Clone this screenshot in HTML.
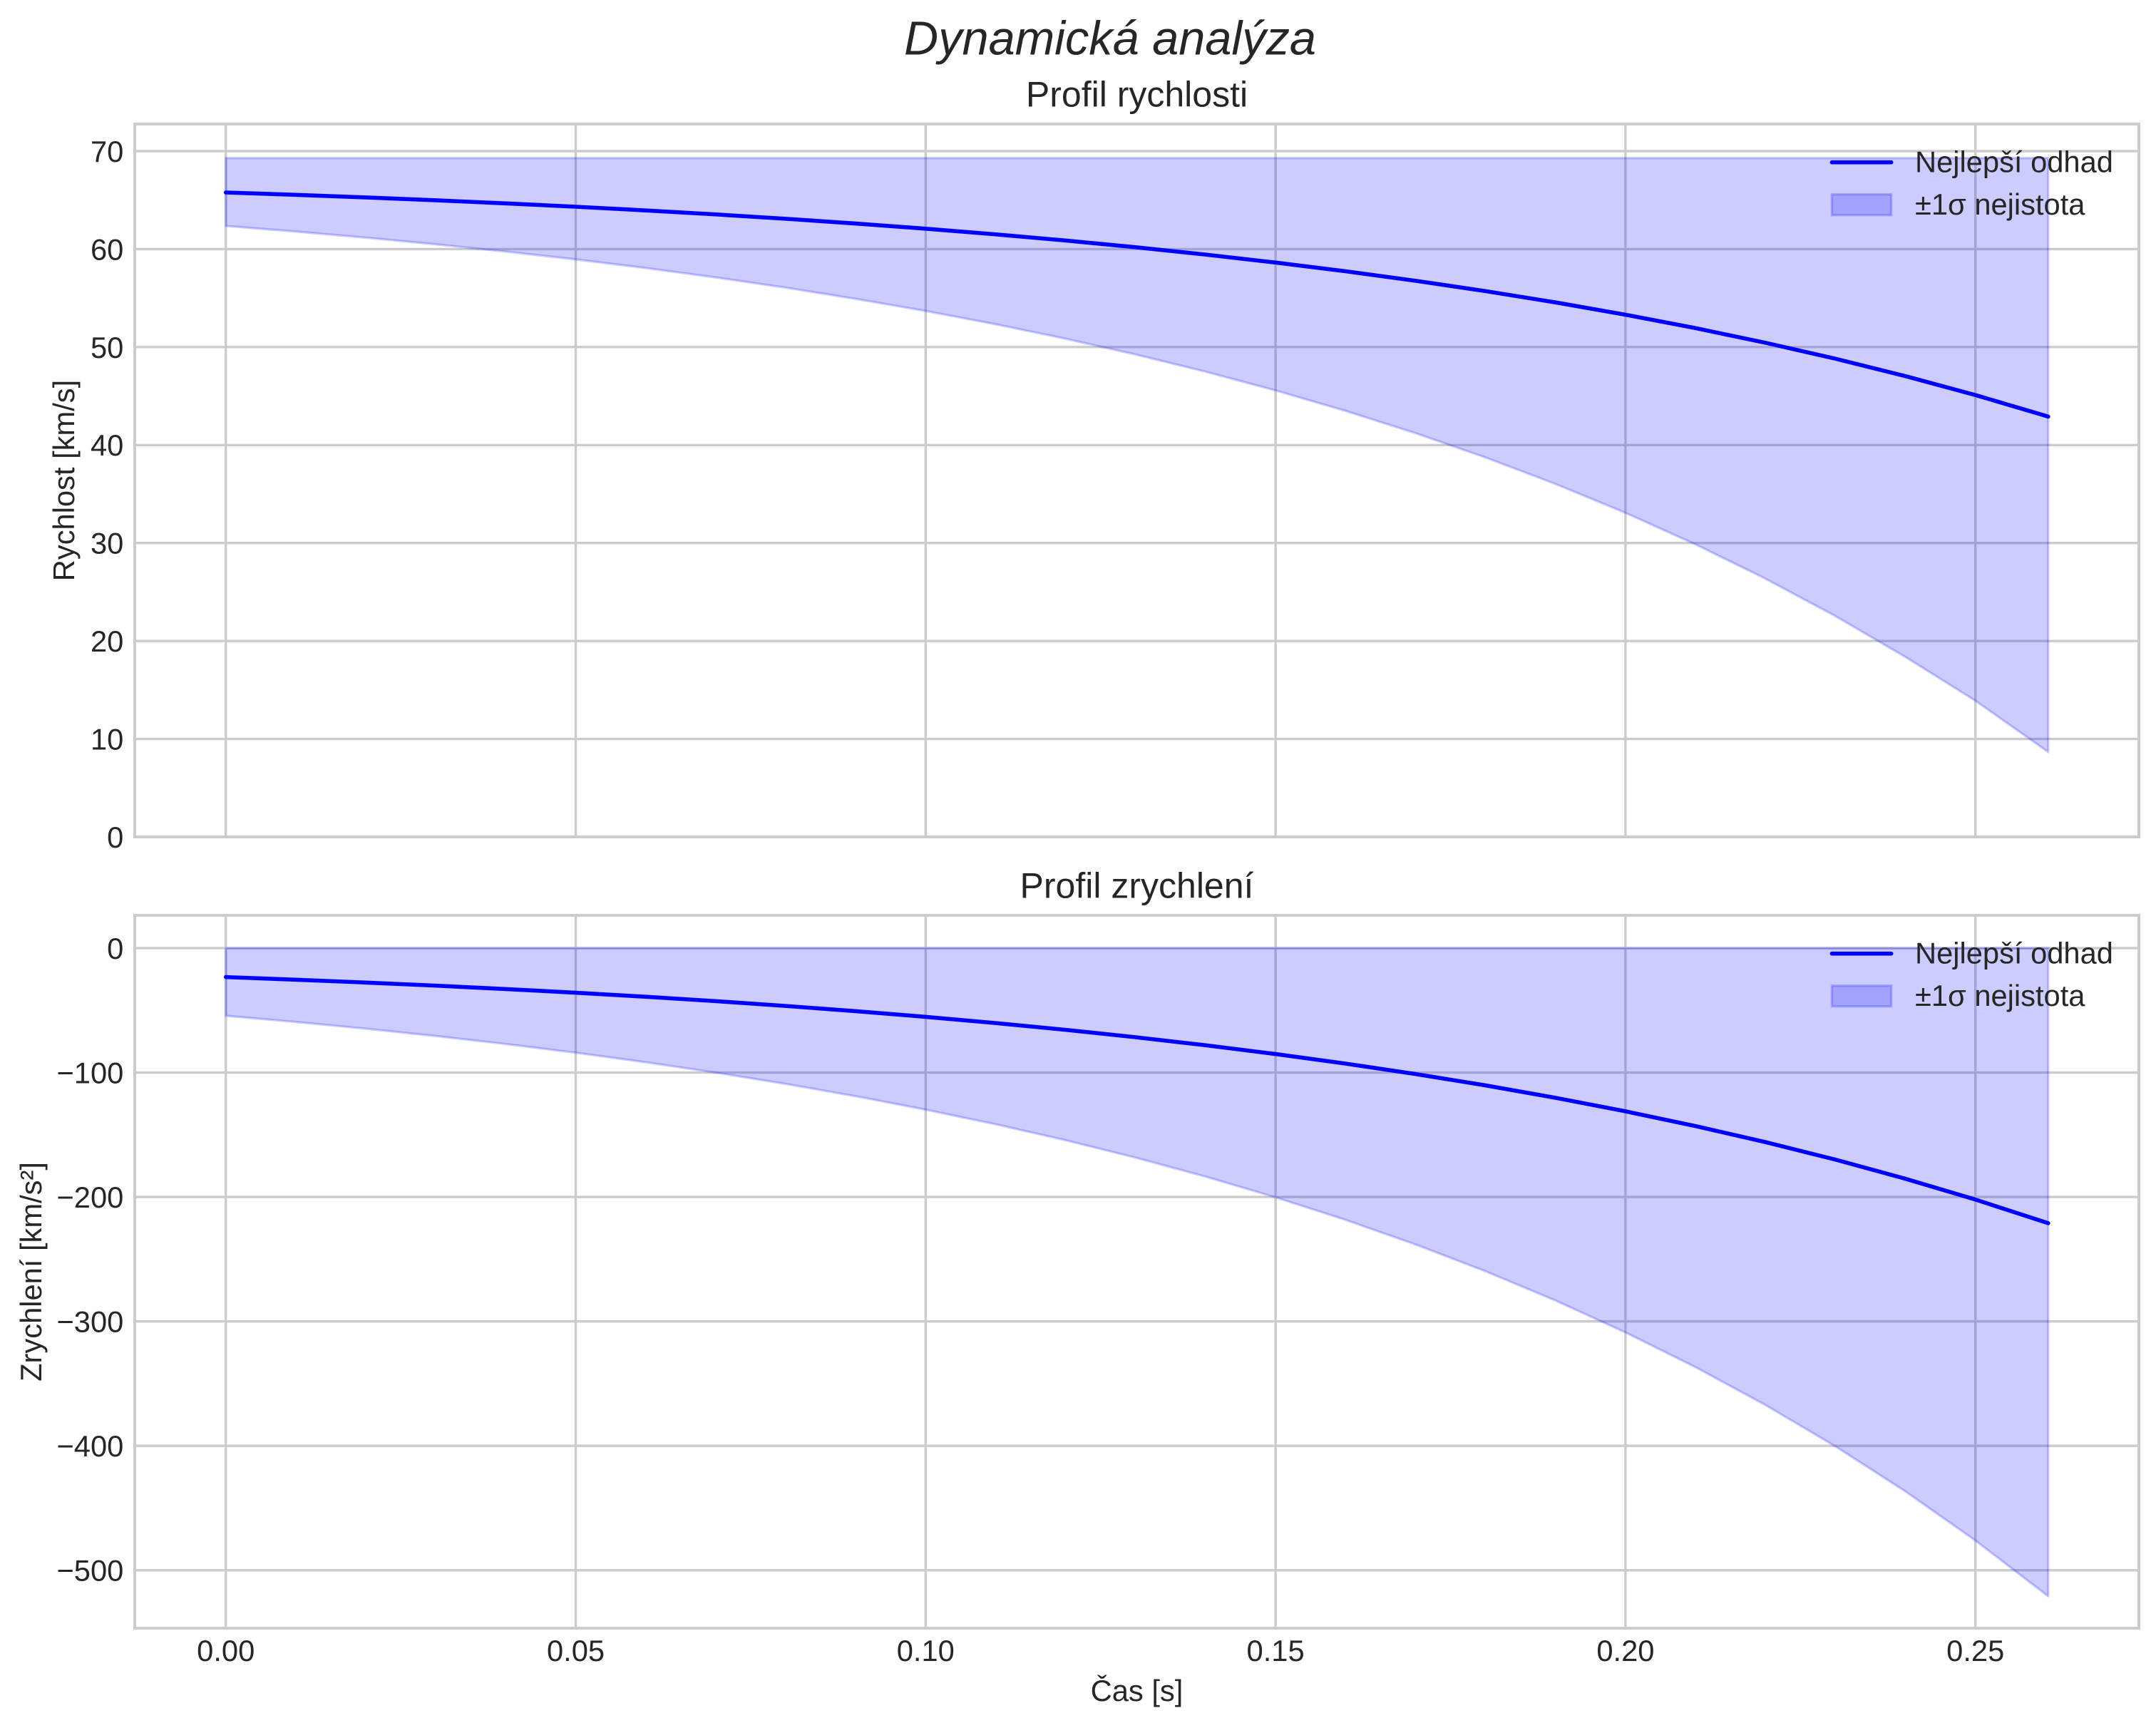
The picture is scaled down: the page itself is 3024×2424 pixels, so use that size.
<!DOCTYPE html>
<html>
<head>
<meta charset="utf-8">
<style>
html,body{margin:0;padding:0;background:#ffffff;}
svg{display:block;}
text{font-family:"Liberation Sans", "DejaVu Sans", sans-serif;fill:#262626;}
</style>
</head>
<body>
<svg xmlns="http://www.w3.org/2000/svg" width="3024" height="2424" viewBox="0 0 3024 2424">
<rect x="0" y="0" width="3024" height="2424" fill="#ffffff"/>

<!-- Suptitle -->
<text x="1557" y="76.7" font-size="66.67" font-style="italic" text-anchor="middle">Dynamická analýza</text>

<!-- ============ TOP AXES ============ -->
<text x="1594.5" y="149.3" font-size="50" text-anchor="middle">Profil rychlosti</text>

<g stroke="#cccccc" stroke-width="3.4" fill="none">
  <line x1="316.7" y1="174" x2="316.7" y2="1174"/>
  <line x1="807.5" y1="174" x2="807.5" y2="1174"/>
  <line x1="1298.3" y1="174" x2="1298.3" y2="1174"/>
  <line x1="1789.1" y1="174" x2="1789.1" y2="1174"/>
  <line x1="2279.9" y1="174" x2="2279.9" y2="1174"/>
  <line x1="2770.7" y1="174" x2="2770.7" y2="1174"/>
  <line x1="189" y1="211.99" x2="3000" y2="211.99"/>
  <line x1="189" y1="349.42" x2="3000" y2="349.42"/>
  <line x1="189" y1="486.85" x2="3000" y2="486.85"/>
  <line x1="189" y1="624.28" x2="3000" y2="624.28"/>
  <line x1="189" y1="761.71" x2="3000" y2="761.71"/>
  <line x1="189" y1="899.14" x2="3000" y2="899.14"/>
  <line x1="189" y1="1036.57" x2="3000" y2="1036.57"/>
</g>

<polygon fill="#0000ff" fill-opacity="0.2" stroke="#0000ff" stroke-opacity="0.2" stroke-width="3.3" stroke-linejoin="round"
 points="316.7,221.7 2872.8,221.7 2872.8,1054.89 2868.86,1052.09 2770.7,983.01 2672.54,921.57 2574.38,864.31 2476.22,811.78 2378.06,763.61 2279.9,719.43 2181.74,678.90 2083.58,641.74 1985.42,607.65 1887.26,576.38 1789.1,547.71 1690.94,521.41 1592.78,497.29 1494.62,475.16 1396.46,454.87 1298.3,436.26 1200.14,419.19 1101.98,403.54 1003.82,389.18 905.66,376.01 807.5,363.93 709.34,352.85 611.18,342.69 513.02,333.38 414.86,324.83 316.7,316.99"/>

<polyline fill="none" stroke="#0000ff" stroke-width="5.6" stroke-linecap="round" stroke-linejoin="round"
 points="316.7,270.00 414.86,273.34 513.02,276.98 611.18,280.95 709.34,285.28 807.5,290.00 905.66,295.15 1003.82,300.76 1101.98,306.88 1200.14,313.55 1298.3,320.82 1396.46,328.75 1494.62,337.39 1592.78,346.82 1690.94,357.10 1789.1,368.30 1887.26,380.52 1985.42,393.84 2083.58,408.37 2181.74,424.20 2279.9,441.47 2378.06,460.29 2476.22,480.82 2574.38,503.20 2672.54,527.60 2770.7,554.20 2868.86,583.21 2872.8,584.40"/>

<rect x="189" y="174" width="2811" height="1000" fill="none" stroke="#cccccc" stroke-width="4"/>

<g font-size="41.67" text-anchor="end">
  <text x="173.3" y="226.9">70</text>
  <text x="173.3" y="364.3">60</text>
  <text x="173.3" y="501.8">50</text>
  <text x="173.3" y="639.2">40</text>
  <text x="173.3" y="776.6">30</text>
  <text x="173.3" y="914.0">20</text>
  <text x="173.3" y="1051.5">10</text>
  <text x="173.3" y="1188.9">0</text>
</g>

<text transform="translate(104,674) rotate(-90)" font-size="41.67" text-anchor="middle">Rychlost [km/s]</text>

<!-- legend top -->
<line x1="2569.4" y1="227.7" x2="2652.7" y2="227.7" stroke="#0000ff" stroke-width="5.6" stroke-linecap="round"/>
<text x="2686" y="241.7" font-size="41.67">Nejlepší odhad</text>
<rect x="2569.4" y="272.6" width="83.3" height="29.2" fill="#0000ff" fill-opacity="0.2" stroke="#0000ff" stroke-opacity="0.2" stroke-width="3.3"/>
<text x="2686" y="301.2" font-size="41.67">±1σ nejistota</text>

<!-- ============ BOTTOM AXES ============ -->
<text x="1594.5" y="1259.3" font-size="50" text-anchor="middle">Profil zrychlení</text>

<g stroke="#cccccc" stroke-width="3.4" fill="none">
  <line x1="316.7" y1="1284" x2="316.7" y2="2284"/>
  <line x1="807.5" y1="1284" x2="807.5" y2="2284"/>
  <line x1="1298.3" y1="1284" x2="1298.3" y2="2284"/>
  <line x1="1789.1" y1="1284" x2="1789.1" y2="2284"/>
  <line x1="2279.9" y1="1284" x2="2279.9" y2="2284"/>
  <line x1="2770.7" y1="1284" x2="2770.7" y2="2284"/>
  <line x1="189" y1="1330" x2="3000" y2="1330"/>
  <line x1="189" y1="1504.54" x2="3000" y2="1504.54"/>
  <line x1="189" y1="1679.08" x2="3000" y2="1679.08"/>
  <line x1="189" y1="1853.62" x2="3000" y2="1853.62"/>
  <line x1="189" y1="2028.16" x2="3000" y2="2028.16"/>
  <line x1="189" y1="2202.7" x2="3000" y2="2202.7"/>
</g>

<polygon fill="#0000ff" fill-opacity="0.2" stroke="#0000ff" stroke-opacity="0.2" stroke-width="3.3" stroke-linejoin="round"
 points="316.7,1330 2872.8,1330 2872.8,2239.27 2868.86,2236.19 2770.7,2161.06 2672.54,2092.15 2574.38,2028.95 2476.22,1970.99 2378.06,1917.83 2279.9,1869.08 2181.74,1824.35 2083.58,1783.33 1985.42,1745.71 1887.26,1711.21 1789.1,1679.57 1690.94,1650.54 1592.78,1623.92 1494.62,1599.51 1396.46,1577.11 1298.3,1556.58 1200.14,1537.74 1101.98,1520.46 1003.82,1504.62 905.66,1490.08 807.5,1476.76 709.34,1464.53 611.18,1453.32 513.02,1443.03 414.86,1433.60 316.7,1424.95"/>

<polyline fill="none" stroke="#0000ff" stroke-width="5.6" stroke-linecap="round" stroke-linejoin="round"
 points="316.7,1370.62 414.86,1374.28 513.02,1378.28 611.18,1382.64 709.34,1387.40 807.5,1392.58 905.66,1398.23 1003.82,1404.39 1101.98,1411.11 1200.14,1418.44 1298.3,1426.42 1396.46,1435.13 1494.62,1444.63 1592.78,1454.98 1690.94,1466.27 1789.1,1478.57 1887.26,1491.99 1985.42,1506.62 2083.58,1522.57 2181.74,1539.96 2279.9,1558.92 2378.06,1579.60 2476.22,1602.14 2574.38,1626.71 2672.54,1653.51 2770.7,1682.73 2868.86,1714.58 2872.8,1715.89"/>

<rect x="189" y="1284" width="2811" height="1000" fill="none" stroke="#cccccc" stroke-width="4"/>

<g font-size="41.67" text-anchor="end">
  <text x="173.3" y="1344.9">0</text>
  <text x="173.3" y="1519.4">−100</text>
  <text x="173.3" y="1694.0">−200</text>
  <text x="173.3" y="1868.5">−300</text>
  <text x="173.3" y="2043.1">−400</text>
  <text x="173.3" y="2217.6">−500</text>
</g>

<text transform="translate(58,1784) rotate(-90)" font-size="41.67" text-anchor="middle">Zrychlení [km/s²]</text>

<!-- x tick labels -->
<g font-size="41.67" text-anchor="middle">
  <text x="316.7" y="2330">0.00</text>
  <text x="807.5" y="2330">0.05</text>
  <text x="1298.3" y="2330">0.10</text>
  <text x="1789.1" y="2330">0.15</text>
  <text x="2279.9" y="2330">0.20</text>
  <text x="2770.7" y="2330">0.25</text>
</g>
<text x="1594.5" y="2386" font-size="41.67" text-anchor="middle">Čas [s]</text>

<!-- legend bottom -->
<line x1="2569.4" y1="1337.7" x2="2652.7" y2="1337.7" stroke="#0000ff" stroke-width="5.6" stroke-linecap="round"/>
<text x="2686" y="1351.7" font-size="41.67">Nejlepší odhad</text>
<rect x="2569.4" y="1382.6" width="83.3" height="29.2" fill="#0000ff" fill-opacity="0.2" stroke="#0000ff" stroke-opacity="0.2" stroke-width="3.3"/>
<text x="2686" y="1411.2" font-size="41.67">±1σ nejistota</text>
</svg>
</body>
</html>
